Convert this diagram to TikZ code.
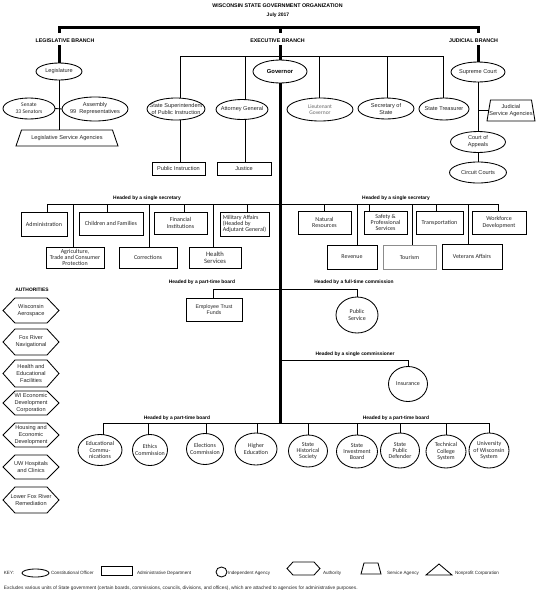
\documentclass[tikz,border=0pt]{standalone}
\usepackage{fontspec}
\setmainfont{Liberation Sans}
\newfontfamily\crlfont{Carlito}
\usetikzlibrary{shapes.geometric}
\newcommand\fA{\fontsize{5.6}{7}\selectfont}
\newcommand\fC{\crlfont\fontsize{6}{6.4}\selectfont}
\newcommand\fH{\bfseries\fontsize{4.9}{6}\selectfont}
\newcommand\fK{\fontsize{4.6}{5.5}\selectfont}
\newcommand\Ov[7][]{\node[ovshape,minimum width=#5pt,minimum height=#6pt] (#2) at (#3,#4) {};
  \node[#1] (#2-t) at (#2.center) {#7};}
\newcommand\Bx[7][]{\node[bxshape,minimum width=#5pt,minimum height=#6pt,#1] (#2) at (#3,#4) {#7};}
\newcommand\Hx[8][]{\node[minimum width=#5pt,minimum height=#6pt,#1] (#2) at (#3,#4) {#8};
  \draw[ln] ([xshift=#7pt]#2.north west) -- ([xshift=-#7pt]#2.north east) -- (#2.east)
    -- ([xshift=-#7pt]#2.south east) -- ([xshift=#7pt]#2.south west) -- (#2.west) -- cycle;}
\newcommand\Tz[8][]{\node[minimum width=#5pt,minimum height=#6pt,#1] (#2) at (#3,#4) {#8};
  \draw[ln] ([xshift=#7pt]#2.north west) -- ([xshift=-#7pt]#2.north east)
    -- ([xshift=#7pt]#2.south east) -- ([xshift=-#7pt]#2.south west) -- cycle;}
\begin{document}
\begin{tikzpicture}[x=1pt,y=-1pt,
  every node/.style={inner sep=0pt,outer sep=0pt,align=center,text=black!85,font=\fA},
  ln/.style={draw=black,line width=0.85pt},
  trunk/.style={draw=black,line width=3pt},
  ovshape/.style={ellipse,ln},
  bxshape/.style={rectangle,ln},
  grp/.style={font=\fH,text=black},
  brn/.style={font=\bfseries\fontsize{5.3}{6}\selectfont,text=black},
  keytxt/.style={font=\fK,anchor=west},
]
\fill[white] (0,0) rectangle (545,600);
\useasboundingbox (0,0) rectangle (545,600);

% title and branches
\node[brn] (title) at (277.5,6) {WISCONSIN STATE GOVERNMENT ORGANIZATION};
\node[font=\bfseries\fontsize{5}{6}\selectfont,text=black] (date) at (278,15) {July 2017};
\node[brn] (legb) at (65,41) {LEGISLATIVE BRANCH};
\node[brn] (exb) at (277.5,41) {EXECUTIVE BRANCH};
\node[brn] (jub) at (473.5,41) {JUDICIAL BRANCH};
\coordinate (tl) at (59,27); \coordinate (tm) at (280,27); \coordinate (tr) at (478,27);
\coordinate (tl2) at (59,33); \coordinate (tm2) at (280,33); \coordinate (tr2) at (478,33);
\coordinate (ul) at (59,45); \coordinate (um) at (280,45); \coordinate (ur) at (478,45);
\draw[trunk] (tl2) -- (tl) -- (tr) -- (tr2);
\draw[trunk] (tm) -- (tm2);

% legislative
\Ov{leg}{59}{71.5}{46}{17}{Legislature}
\draw[trunk] (ul) -- (leg.north);
\Ov[font=\crlfont\fontsize{5.6}{7}\selectfont]{sen}{29}{108.5}{52}{21}{Senate\\33 Senators}
\Ov{asm}{95}{109}{66}{24}{Assembly\\99~~Representatives}
\Tz{lsa}{67}{138}{96.5}{16}{2.75}{Legislative Service Agencies}
\draw[ln] (leg.south) -- (leg.south |- lsa.north);
\draw[ln] (sen.east) -- (asm.west);

% executive
\coordinate (e1) at (180,56); \coordinate (e2) at (245,56); \coordinate (e3) at (319,56);
\coordinate (e4) at (387,56); \coordinate (e5) at (443,56);
\draw[ln] (e1) -- (e5);
\Ov[font=\bfseries\fontsize{5.8}{7}\selectfont,text=black]{gov}{280}{71.5}{54}{23}{Governor}
\draw[trunk] (um) -- (gov.north);
\coordinate (bot) at (280,423);
\draw[trunk] (gov.south) -- (bot);
\Ov{sspi}{176}{109}{58}{22}{State Superintendent\\of Public Instruction}
\Ov{ag}{242}{109.5}{52}{20}{Attorney General}
\Ov[font=\crlfont\fontsize{5.5}{6.5}\selectfont,text=black!60]{ltg}{320}{109.5}{66}{23}{Lieutenant\\Governor}
\Ov{sos}{386}{108.5}{56}{21}{Secretary of\\State}
\Ov{trs}{444}{109}{50}{22}{State Treasurer}
\foreach \dd/\nn in {e1/sspi,e2/ag,e3/ltg,e4/sos,e5/trs}
  \draw[ln] (\dd) -- (\dd |- \nn.north);
\Bx{pi}{178.5}{168.5}{53}{13}{Public Instruction}
\Bx{jus}{244}{168.5}{54}{13}{Justice}
\draw[ln] (e1 |- sspi.south) -- (e1 |- pi.north);
\draw[ln] (e2 |- ag.south) -- (e2 |- jus.north);

% judicial
\Ov{sc}{478}{72}{54}{20}{Supreme Court}
\draw[trunk] (ur) -- (sc.north);
\Tz{jsa}{511}{110.5}{44.5}{21}{1.75}{Judicial\\Service Agencies}
\Ov{coa}{478}{142}{55}{21}{Court of\\Appeals}
\Ov{cc}{478}{172.5}{57}{21}{Circuit Courts}
\draw[ln] (sc.south) -- (coa.north);
\draw[ln] (coa.south) -- (cc.north);
\draw[ln] (sc.south |- jsa.west) -- (jsa.west);

% single secretary
\node[grp] (hs1) at (147,198) {Headed by a single secretary};
\node[grp] (hs2) at (396,198) {Headed by a single secretary};
\coordinate (s1) at (47,204); \coordinate (s2) at (73,204); \coordinate (s3) at (107,204);
\coordinate (s4) at (149,204); \coordinate (s5) at (184,204); \coordinate (s6) at (213,204);
\coordinate (s7) at (247,204);
\coordinate (r1) at (324,204); \coordinate (r2) at (357,204); \coordinate (r3) at (369,204);
\coordinate (r4) at (412,204); \coordinate (r5) at (436,204); \coordinate (r6) at (468,204);
\coordinate (r7) at (498,204);
\draw[ln] (s1) -- (r7);
\Bx[font=\fC]{adm}{44}{224}{46}{24}{Administration}
\Bx[font=\fC]{cf}{111}{223.5}{64}{23}{Children and Families}
\Bx[font=\fC]{fi}{180.5}{223}{53}{22}{Financial\\Institutions}
\Bx[font=\fC,align=left]{ma}{244.5}{224}{49}{24}{Military Affairs\\(Headed by\\Adjutant General)}
\Bx[font=\fC]{agr}{75}{257.5}{58}{21}{Agriculture,\\Trade and Consumer\\Protection}
\Bx[font=\fC]{cor}{148}{257.5}{58}{21}{Corrections}
\Bx[font=\crlfont\fontsize{6.6}{7}\selectfont]{hsv}{215}{257.5}{52}{21}{Health\\Services}
\Bx[font=\fC]{nr}{324.5}{222.5}{53}{23}{Natural\\Resources}
\Bx[font=\fC]{sps}{385.5}{222.5}{43}{23}{Safety \&\\Professional\\Services}
\Bx[font=\fC]{trn}{439.5}{222.5}{47}{23}{Transportation}
\Bx[font=\fC]{wd}{499}{222.5}{54}{23}{Workforce\\Development}
\Bx[font=\fC]{rev}{352}{257}{50}{24}{Revenue}
\Bx[font=\fC,draw=black!45]{tou}{409.5}{257}{53}{24}{Tourism}
\Bx[font=\fC]{va}{472}{256.5}{60}{25}{Veterans Affairs}
\foreach \dd/\nn in {s1/adm,s2/agr,s3/cf,s4/cor,s5/fi,s6/hsv,s7/ma,r1/nr,r2/rev,r3/sps,r4/tou,r5/trn,r6/va,r7/wd}
  \draw[ln] (\dd) -- (\dd |- \nn.north);

% part-time board / full-time commission
\node[grp] (pt1) at (202,282) {Headed by a part-time board};
\node[grp] (ftc) at (354,282) {Headed by a full-time commission};
\coordinate (p1) at (213,289); \coordinate (f1) at (357,289);
\draw[ln] (p1) -- (f1);
\Bx[font=\fontsize{5.3}{6.5}\selectfont]{etf}{214}{309.5}{56}{23}{Employee Trust\\Funds}
\draw[ln] (p1) -- (p1 |- etf.north);
\Ov[font=\fC]{ps}{357}{315}{42}{36}{Public\\Service}
\draw[ln] (f1) -- (ps.north);

% single commissioner
\node[grp] (scm) at (355,354) {Headed by a single commissioner};
\coordinate (c1) at (280,360); \coordinate (c2) at (408,360);
\Ov[font=\fC]{ins}{408}{384}{39}{35}{Insurance}
\draw[ln] (c1) -- (c2) -- (ins.north);

% bottom part-time boards
\node[grp] (pb1) at (177,418) {Headed by a part-time board};
\node[grp] (pb2) at (396,418) {Headed by a part-time board};
\coordinate (b1) at (103,423); \coordinate (b2) at (148,423); \coordinate (b3) at (206,423);
\coordinate (b4) at (257,423); \coordinate (b5) at (308,423); \coordinate (b6) at (357,423);
\coordinate (b7) at (400,423); \coordinate (b8) at (446,423); \coordinate (b9) at (489,423);
\draw[ln] (b1) -- (b9);
\Ov[font=\fC]{edc}{100}{450}{44}{31}{Educational\\Commu-\\nications}
\Ov[font=\fC]{eth}{150}{450}{35}{31}{Ethics\\Commission}
\Ov[font=\fC]{ele}{205}{449}{37}{31}{Elections\\Commission}
\Ov[font=\fC]{hed}{256}{449}{42}{32}{Higher\\Education}
\Ov[font=\fC]{shs}{308}{451}{39}{32}{State\\Historical\\Society}
\Ov[font=\fC]{sib}{357}{451.5}{41}{33}{State\\Investment\\Board}
\Ov[font=\fC]{spd}{400}{450.5}{39}{35}{State\\Public\\Defender}
\Ov[font=\fC]{tcs}{446}{451.5}{40}{33}{Technical\\College\\System}
\Ov[font=\fC]{uws}{489}{450.5}{40}{35}{University\\of Wisconsin\\System}
\foreach \dd/\nn in {b1/edc,b2/eth,b3/ele,b4/hed,b5/shs,b6/sib,b7/spd,b8/tcs,b9/uws}
  \draw[ln] (\dd) -- (\dd |- \nn.north);

% authorities
\node[grp] (auth) at (32,290) {AUTHORITIES};
\Hx{wa}{31}{310.5}{56}{25}{12}{Wisconsin\\Aerospace}
\Hx{frn}{31}{342}{56}{26}{12}{Fox River\\Navigational}
\Hx{hef}{31}{373.5}{56}{27}{12}{Health and\\Educational\\Facilities}
\Hx{wedc}{31}{403}{56}{24}{12}{WI Economic\\Development\\Corporation}
\Hx{hec}{31}{435}{56}{24}{12}{Housing and\\Economic\\Development}
\Hx{uwh}{31}{467}{56}{24}{12}{UW Hospitals\\and Clinics}
\Hx{lfr}{31}{500}{56}{26}{12}{Lower Fox River\\Remediation}

% key
\node[font=\fK] (key) at (9,573) {KEY:};
\node[ovshape,minimum width=27pt,minimum height=8pt] (k1) at (35.5,573) {};
\node[keytxt] (k1t) at (51,573) {Constitutional Officer};
\node[bxshape,minimum width=31pt,minimum height=9pt] (k2) at (116.5,570.5) {};
\node[keytxt] (k2t) at (137,573) {Administrative Department};
\node[ovshape,minimum width=11pt,minimum height=10pt] (k3) at (221.5,572) {};
\node[keytxt] (k3t) at (228,573) {Independent Agency};
\Hx{k4}{303.5}{568.5}{33}{13}{6}{}
\node[keytxt] (k4t) at (323,573) {Authority};
\Tz{k5}{371}{568.5}{17}{11}{1.5}{}
\node[keytxt] (k5t) at (387,573) {Service Agency};
\coordinate (k6a) at (426,575); \coordinate (k6b) at (439,564); \coordinate (k6c) at (452,575);
\draw[ln] (k6a) -- (k6b) -- (k6c) -- cycle;
\node[keytxt] (k6t) at (455,573) {Nonprofit Corporation};
\node[keytxt,font=\fontsize{4.8}{5.5}\selectfont] (note) at (4,588) {Excludes various units of State government (certain boards, commissions, councils, divisions, and offices), which are attached to agencies for administrative purposes.};
\end{tikzpicture}
\end{document}
